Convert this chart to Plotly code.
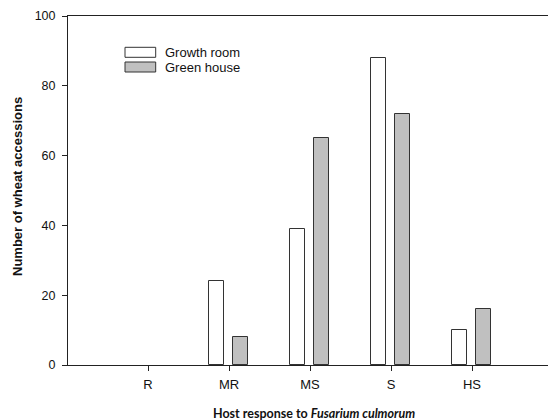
import plotly.graph_objects as go

# Host response classes and accession counts per screening environment
categories = ["R", "MR", "MS", "S", "HS"]
growth_room = [0, 24, 39, 88, 10]
green_house = [0, 8, 65, 72, 16]
y_ticks = [0, 20, 40, 60, 80, 100]

W, H = 548, 420
ML, MR_, MT, MB = 68, 0, 16, 55
PW, PH = W - ML - MR_, H - MT - MB


def px_x(p):
    return (p - ML) / PW


def px_y(p):
    return (H - MB - p) / PH


def outline_widths(values):
    # empty classes get no outline so no flat sliver is drawn on the axis
    return [1 if v > 0 else 0 for v in values]


edge = "#333333"
fig = go.Figure()
fig.add_trace(go.Bar(
    x=categories, y=growth_room, name="Growth room",
    width=0.185, offset=-0.245,
    marker=dict(color="white", line=dict(color=edge, width=outline_widths(growth_room))),
    showlegend=False,
))
fig.add_trace(go.Bar(
    x=categories, y=green_house, name="Green house",
    width=0.185, offset=0.055,
    marker=dict(color="#c0c0c0", line=dict(color=edge, width=outline_widths(green_house))),
    showlegend=False,
))

# Legend drawn as wide swatches with labels
legend_items = [("Growth room", "white", 47.3, 57.3), ("Green house", "#c0c0c0", 62, 72)]
for label, fill, top, bot in legend_items:
    fig.add_shape(type="rect", xref="paper", yref="paper",
                  x0=px_x(125), x1=px_x(155.7), y0=px_y(bot), y1=px_y(top),
                  fillcolor=fill, line=dict(color=edge, width=1))
    fig.add_annotation(xref="paper", yref="paper", x=px_x(163), y=px_y((top + bot) / 2),
                       text=label, showarrow=False, xanchor="left", yanchor="middle",
                       font=dict(family="Liberation Sans, Arial", size=13, color="#111"))

# Axis titles
fig.add_annotation(xref="paper", yref="paper", x=px_x(17), y=px_y(187),
                   text="Number of wheat accessions", textangle=-90, showarrow=False,
                   xanchor="center", yanchor="middle",
                   font=dict(family="Liberation Sans, Arial", size=13, color="#111", weight="bold"))
fig.add_annotation(xref="paper", yref="paper", x=px_x(314), y=px_y(413),
                   text="Host response to <i>Fusarium culmorum</i>", showarrow=False,
                   xanchor="center", yanchor="middle",
                   font=dict(family="Lato, Open Sans", size=12.5, color="#111", weight="bold"))

fig.update_layout(
    width=W, height=H,
    margin=dict(l=ML, r=MR_, t=MT, b=MB, pad=0),
    plot_bgcolor="white", paper_bgcolor="white",
    bargap=0, barmode="overlay",
    font=dict(family="Liberation Sans, Arial", color="#111"),
)
fig.update_xaxes(
    range=[-80 / 81, -80 / 81 + PW / 81],
    showline=True, linecolor="#222", linewidth=1, mirror=True,
    ticks="outside", ticklen=5, tickcolor="#222", tickwidth=1,
    tickfont=dict(size=13), showgrid=False, zeroline=False,
    ticklabelstandoff=2,
)
fig.update_yaxes(
    range=[0, 100], tickvals=y_ticks,
    showline=True, linecolor="#222", linewidth=1,
    ticks="outside", ticklen=5, tickcolor="#222", tickwidth=1,
    tickfont=dict(size=12.5), showgrid=False, zeroline=False,
    ticklabelstandoff=4,
)

fig.write_html("out.html")
